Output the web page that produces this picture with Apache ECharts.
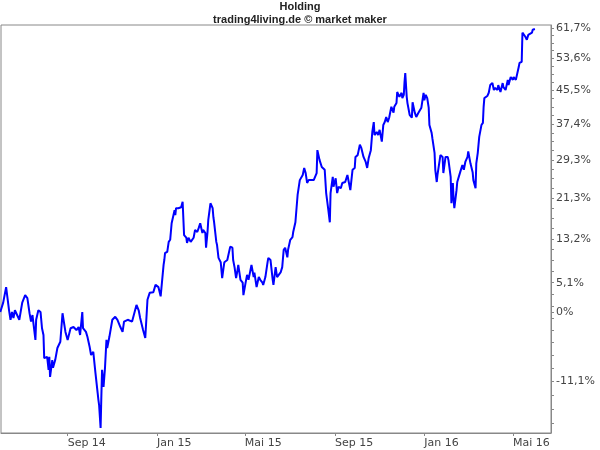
<!DOCTYPE html>
<html>
<head>
<meta charset="utf-8">
<script src="https://cdn.jsdelivr.net/npm/echarts@6/dist/echarts.min.js"></script>
<style>html,body{margin:0;padding:0;background:#fff}#c{width:600px;height:450px}</style>
</head>
<body>
<div id="c"></div>
<script>
// ---- data (percent change vs. start) ----
const dates = ['2014-06-01','2014-06-05','2014-06-09','2014-06-11','2014-06-13','2014-06-15','2014-06-17','2014-06-19','2014-06-21','2014-06-24','2014-06-27','2014-07-01','2014-07-05','2014-07-08','2014-07-11','2014-07-13','2014-07-15','2014-07-16','2014-07-19','2014-07-20','2014-07-23','2014-07-26','2014-07-28','2014-07-30','2014-07-31','2014-08-04','2014-08-06','2014-08-07','2014-08-08','2014-08-11','2014-08-12','2014-08-15','2014-08-18','2014-08-22','2014-08-25','2014-08-26','2014-08-29','2014-09-01','2014-09-05','2014-09-09','2014-09-13','2014-09-16','2014-09-18','2014-09-21','2014-09-22','2014-09-26','2014-09-28','2014-10-01','2014-10-03','2014-10-06','2014-10-09','2014-10-12','2014-10-13','2014-10-14','2014-10-16','2014-10-17','2014-10-18','2014-10-20','2014-10-22','2014-10-24','2014-10-25','2014-10-28','2014-11-01','2014-11-05','2014-11-08','2014-11-12','2014-11-15','2014-11-17','2014-11-22','2014-11-24','2014-11-28','2014-11-30','2014-12-04','2014-12-07','2014-12-09','2014-12-13','2014-12-16','2014-12-19','2014-12-22','2014-12-27','2014-12-30','2015-01-03','2015-01-06','2015-01-07','2015-01-10','2015-01-11','2015-01-12','2015-01-15','2015-01-17','2015-01-19','2015-01-21','2015-01-23','2015-01-25','2015-01-26','2015-01-27','2015-01-30','2015-02-03','2015-02-05','2015-02-06','2015-02-07','2015-02-10','2015-02-11','2015-02-13','2015-02-16','2015-02-20','2015-02-22','2015-02-25','2015-02-27','2015-03-01','2015-03-04','2015-03-05','2015-03-08','2015-03-09','2015-03-11','2015-03-12','2015-03-15','2015-03-18','2015-03-19','2015-03-20','2015-03-23','2015-03-24','2015-03-26','2015-03-29','2015-03-31','2015-04-02','2015-04-03','2015-04-07','2015-04-09','2015-04-11','2015-04-14','2015-04-15','2015-04-17','2015-04-19','2015-04-21','2015-04-22','2015-04-25','2015-04-28','2015-04-29','2015-05-02','2015-05-04','2015-05-06','2015-05-10','2015-05-13','2015-05-14','2015-05-17','2015-05-20','2015-05-22','2015-05-25','2015-05-26','2015-05-29','2015-06-01','2015-06-02','2015-06-05','2015-06-08','2015-06-09','2015-06-12','2015-06-14','2015-06-16','2015-06-19','2015-06-21','2015-06-23','2015-06-25','2015-06-28','2015-06-29','2015-07-02','2015-07-05','2015-07-06','2015-07-09','2015-07-12','2015-07-15','2015-07-19','2015-07-21','2015-07-23','2015-07-25','2015-07-27','2015-08-03','2015-08-07','2015-08-08','2015-08-11','2015-08-14','2015-08-16','2015-08-18','2015-08-20','2015-08-23','2015-08-25','2015-08-26','2015-08-29','2015-08-30','2015-09-02','2015-09-04','2015-09-06','2015-09-09','2015-09-11','2015-09-15','2015-09-18','2015-09-19','2015-09-22','2015-09-25','2015-09-28','2015-09-29','2015-10-02','2015-10-05','2015-10-07','2015-10-10','2015-10-13','2015-10-15','2015-10-17','2015-10-20','2015-10-22','2015-10-24','2015-10-25','2015-10-28','2015-10-30','2015-11-01','2015-11-04','2015-11-06','2015-11-08','2015-11-10','2015-11-12','2015-11-14','2015-11-17','2015-11-20','2015-11-21','2015-11-24','2015-11-25','2015-11-28','2015-12-01','2015-12-02','2015-12-04','2015-12-05','2015-12-06','2015-12-08','2015-12-09','2015-12-12','2015-12-15','2015-12-16','2015-12-17','2015-12-19','2015-12-21','2015-12-24','2015-12-28','2015-12-31','2016-01-01','2016-01-03','2016-01-05','2016-01-07','2016-01-08','2016-01-11','2016-01-12','2016-01-14','2016-01-15','2016-01-16','2016-01-18','2016-01-19','2016-01-22','2016-01-23','2016-01-26','2016-01-27','2016-01-30','2016-02-02','2016-02-03','2016-02-06','2016-02-07','2016-02-09','2016-02-10','2016-02-11','2016-02-14','2016-02-15','2016-02-17','2016-02-19','2016-02-22','2016-02-24','2016-02-26','2016-02-29','2016-03-01','2016-03-04','2016-03-07','2016-03-08','2016-03-11','2016-03-12','2016-03-14','2016-03-16','2016-03-19','2016-03-21','2016-03-22','2016-03-23','2016-03-27','2016-03-29','2016-03-31','2016-04-03','2016-04-05','2016-04-07','2016-04-10','2016-04-11','2016-04-14','2016-04-17','2016-04-18','2016-04-21','2016-04-24','2016-04-25','2016-04-28','2016-05-01','2016-05-02','2016-05-05','2016-05-07','2016-05-09','2016-05-10','2016-05-13','2016-05-14','2016-05-16','2016-05-18','2016-05-20','2016-05-22','2016-05-24','2016-05-27','2016-05-28','2016-05-31'];
const pct = [0.0,1.6,4.3,4.4,0.3,-1.3,0.0,-1.0,0.3,-0.5,-1.3,1.6,2.9,2.4,-0.2,-1.6,-0.5,-1.6,-4.6,-1.3,0.3,0.0,-2.7,-3.8,-7.5,-7.3,-9.3,-7.3,-10.4,-7.8,-9.0,-7.8,-5.9,-4.9,-0.2,0.0,-3.3,-4.6,-2.7,-2.5,-3.0,-2.5,-3.8,0.0,-2.7,-3.3,-4.1,-5.7,-7.0,-6.5,-9.8,-12.8,-13.8,-14.6,-17.8,-13.4,-9.3,-11.9,-9.0,-4.6,-5.9,-4.1,-1.3,-0.8,-1.3,-2.5,-3.3,-1.6,-1.3,-1.0,-1.6,-1.8,1.2,0.3,-1.0,-3.0,-4.3,2.1,3.3,3.4,4.7,4.3,2.7,2.9,8.3,9.2,10.5,10.7,12.6,13.0,16.2,16.4,18.8,17.8,19.2,19.2,19.4,20.5,20.5,13.9,13.4,12.4,13.4,12.6,13.4,14.9,14.5,15.3,16.2,14.3,14.9,14.3,11.5,14.5,16.8,20.2,19.2,17.4,16.4,12.6,12.0,9.6,8.8,5.9,7.9,8.8,9.2,9.2,11.7,11.5,9.2,7.8,5.9,7.4,8.3,5.6,5.1,2.9,5.1,6.5,5.6,8.3,6.1,6.9,4.3,6.1,5.6,5.1,4.7,6.1,8.8,9.6,9.2,5.6,4.7,7.9,6.1,5.9,7.0,7.9,11.1,11.5,9.7,11.1,13.0,13.5,14.5,16.4,21.9,25.0,26.1,27.6,26.5,24.4,25.0,25.0,26.5,31.5,29.3,27.8,28.2,27.2,22.3,18.8,16.4,22.3,25.7,23.6,25.4,22.3,23.6,23.3,24.4,24.6,26.1,25.7,22.9,27.2,27.6,30.0,30.4,32.7,32.0,30.0,28.9,27.6,29.7,31.5,35.6,37.9,34.9,35.6,34.9,36.1,33.4,37.2,37.9,39.1,37.9,38.9,41.5,40.1,41.5,42.4,45.1,43.9,44.9,43.6,44.4,47.6,49.8,43.9,42.4,39.6,38.9,42.6,42.4,40.1,39.1,40.1,41.3,44.9,43.1,44.4,43.6,41.3,37.2,35.4,34.2,33.8,30.9,27.2,24.6,26.1,29.3,30.4,30.0,26.5,30.0,30.0,29.3,25.7,20.2,24.4,20.9,19.2,22.9,24.6,24.6,26.7,28.2,27.2,28.9,30.0,31.2,28.6,26.7,25.0,23.3,28.6,30.9,34.5,37.2,37.7,41.5,43.6,44.1,44.9,46.8,47.3,45.6,46.1,45.6,46.8,45.1,47.3,46.3,45.6,48.1,46.8,48.8,48.1,48.8,48.1,48.1,51.4,52.4,52.7,60.4,60.6,59.3,58.5,59.8,59.8,60.4,61.2,61.4];

// ---- axis ticks / labels ----
const xTickDates = ['2014-09-01','2015-01-01','2015-05-01','2015-09-01','2016-01-01','2016-05-01'];
const xTickLabels = ['Sep 14','Jan 15','Mai 15','Sep 15','Jan 16','Mai 16'];
const xMinDate = '2014-06-02', xMaxDate = '2016-06-22';
const yTickPct = [-11.1, 0, 5.1, 13.2, 21.3, 29.3, 37.4, 45.5, 53.6, 61.7];
const yTickLabels = ['-11,1%','0%','5,1%','13,2%','21,3%','29,3%','37,4%','45,5%','53,6%','61,7%'];
const yMinorStepPct = 2.0214;   // quarter of the labelled step
const yMinPct = -18.5, yMaxPct = 62.5;

const ts = d => Date.UTC(+d.slice(0, 4), +d.slice(5, 7) - 1, +d.slice(8, 10));
const lg = p => Math.log(1 + p / 100);
const seriesData = dates.map((d, i) => [ts(d), lg(pct[i])]);

const xTickTs = xTickDates.map(ts);
const yTickVals = yTickPct.map(lg);
const minorVals = [];
for (let p = 5.1 + 7 * 8.0857; p >= yMinPct; p -= yMinorStepPct) minorVals.push(lg(p));
minorVals.push(0);

const font = 'DejaVu Sans';
const chart = echarts.init(document.getElementById('c'), null, {renderer: 'canvas'});
chart.setOption({
  animation: false,
  title: {
    text: 'Holding',
    subtext: 'trading4living.de © market maker',
    left: 'center', top: 0, itemGap: 2, padding: [1, 0, 0, 0],
    textStyle: {fontFamily: 'Liberation Sans', fontSize: 11, fontWeight: 'bold', color: '#222'},
    subtextStyle: {fontFamily: 'Liberation Sans', fontSize: 11, fontWeight: 'bold', color: '#222'}
  },
  grid: {left: 1, right: 49, top: 25, bottom: 17, show: true, borderColor: '#888', borderWidth: 1, containLabel: false},
  xAxis: {
    type: 'value',
    min: ts(xMinDate), max: ts(xMaxDate),
    axisLine: {onZero: false, lineStyle: {color: '#888'}},
    axisTick: {customValues: xTickTs, length: 3, lineStyle: {color: '#888'}},
    axisLabel: {
      customValues: xTickTs, align: 'left', margin: 5,
      fontFamily: font, fontSize: 11, color: '#444',
      formatter: v => { const i = xTickTs.findIndex(t => Math.abs(t - v) < 864e5); return i >= 0 ? xTickLabels[i] : ''; }
    },
    splitLine: {show: false}
  },
  yAxis: {
    type: 'value', position: 'right',
    min: lg(yMinPct), max: lg(yMaxPct),
    axisLine: {show: true, onZero: false, lineStyle: {color: '#888'}},
    axisTick: {show: true, customValues: minorVals, length: 3, lineStyle: {color: '#888'}},
    axisLabel: {
      customValues: yTickVals, margin: 5,
      fontFamily: font, fontSize: 11, color: '#444',
      formatter: v => { const i = yTickVals.findIndex(t => Math.abs(t - v) < 1e-6); return i >= 0 ? yTickLabels[i] : ''; }
    },
    splitLine: {show: false}
  },
  series: [{
    type: 'line', data: seriesData, showSymbol: false, symbol: 'none',
    lineStyle: {color: '#0000ff', width: 2}
  }]
});
</script>
</body>
</html>
